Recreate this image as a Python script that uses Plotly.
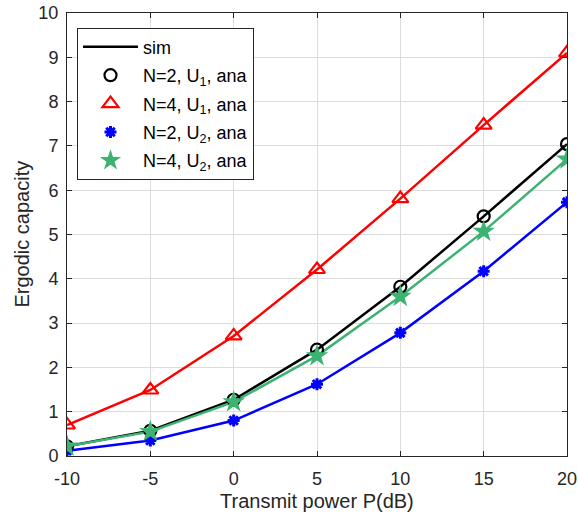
import plotly.graph_objects as go

x_db = [-10, -5, 0, 5, 10, 15, 20]
x_labels = ["-10", "-5", "0", "5", "10", "15", "20"]
n2_u1 = [0.22, 0.57, 1.27, 2.40, 3.82, 5.41, 7.04]
n4_u1 = [0.70, 1.49, 2.71, 4.21, 5.81, 7.47, 9.10]
n2_u2 = [0.12, 0.35, 0.80, 1.62, 2.78, 4.17, 5.73]
n4_u2 = [0.22, 0.55, 1.22, 2.26, 3.60, 5.07, 6.70]

green = "#3cb371"
fig = go.Figure()

# sim lines
fig.add_trace(go.Scatter(x=x_db, y=n4_u1, mode="lines", line=dict(color="red", width=2.5), showlegend=False))
fig.add_trace(go.Scatter(x=x_db, y=n2_u2, mode="lines", line=dict(color="blue", width=2.5), showlegend=False))
fig.add_trace(go.Scatter(x=x_db, y=n2_u1, mode="lines", line=dict(color="black", width=2.5), name="sim",
                         legendgroup="a"))
fig.add_trace(go.Scatter(x=x_db, y=n4_u2, mode="lines", line=dict(color=green, width=2.5), showlegend=False))

# analytical markers
fig.add_trace(go.Scatter(x=x_db, y=n2_u1, mode="markers", name="N=2, U<sub>1</sub>, ana", legendgroup="b",
                         marker=dict(symbol="circle-open", size=12, color="black", line=dict(width=2.2, color="black"))))
fig.add_trace(go.Scatter(x=x_db, y=n4_u1, mode="markers", name="N=4, U<sub>1</sub>, ana", legendgroup="c",
                         marker=dict(symbol="triangle-up-open", size=14, color="red", line=dict(width=2.2, color="red"))))
fig.add_trace(go.Scatter(x=x_db, y=n2_u2, mode="markers", name="N=2, U<sub>2</sub>, ana", legendgroup="d",
                         marker=dict(symbol="asterisk-open", size=10, color="blue", line=dict(width=3, color="blue"))))
fig.add_trace(go.Scatter(x=x_db, y=n4_u2, mode="markers", name="N=4, U<sub>2</sub>, ana", legendgroup="e",
                         marker=dict(symbol="star", size=17, color=green, line=dict(width=0))))

axis_common = dict(showline=True, linecolor="#262626", linewidth=1, mirror="ticks",
                   ticks="inside", ticklen=5, tickcolor="#262626", automargin=False,
                   showgrid=True, gridcolor="#dcdcdc", gridwidth=1, zeroline=False,
                   tickfont=dict(family="Liberation Sans, Arial", size=18, color="#262626"))

fig.update_layout(
    width=578, height=518,
    margin=dict(l=67, r=11, t=13, b=62),
    paper_bgcolor="white", plot_bgcolor="white",
    font=dict(family="Liberation Sans, Arial", color="#262626"),
    xaxis=dict(range=[-10, 20], tickvals=x_db, ticktext=x_labels, ticklabelstandoff=6, **axis_common),
    yaxis=dict(range=[0, 10], dtick=1, ticklabelstandoff=4, **axis_common),
    legend=dict(x=0.02, y=0.967, xanchor="left", yanchor="top",
                bgcolor="white", bordercolor="#262626", borderwidth=1,
                font=dict(size=18, color="black"), itemwidth=55, tracegroupgap=2),
    annotations=[
        dict(text="Transmit power P(dB)", xref="paper", yref="paper", x=0.5, y=0,
             yshift=-45, xanchor="center", yanchor="middle", showarrow=False,
             font=dict(size=20, color="#262626")),
        dict(text="Ergodic capacity", xref="paper", yref="paper", x=0, y=0.5,
             xshift=-46, xanchor="center", yanchor="middle", textangle=-90, showarrow=False,
             font=dict(size=20, color="#262626")),
    ],
)

fig.write_html("out.html")
